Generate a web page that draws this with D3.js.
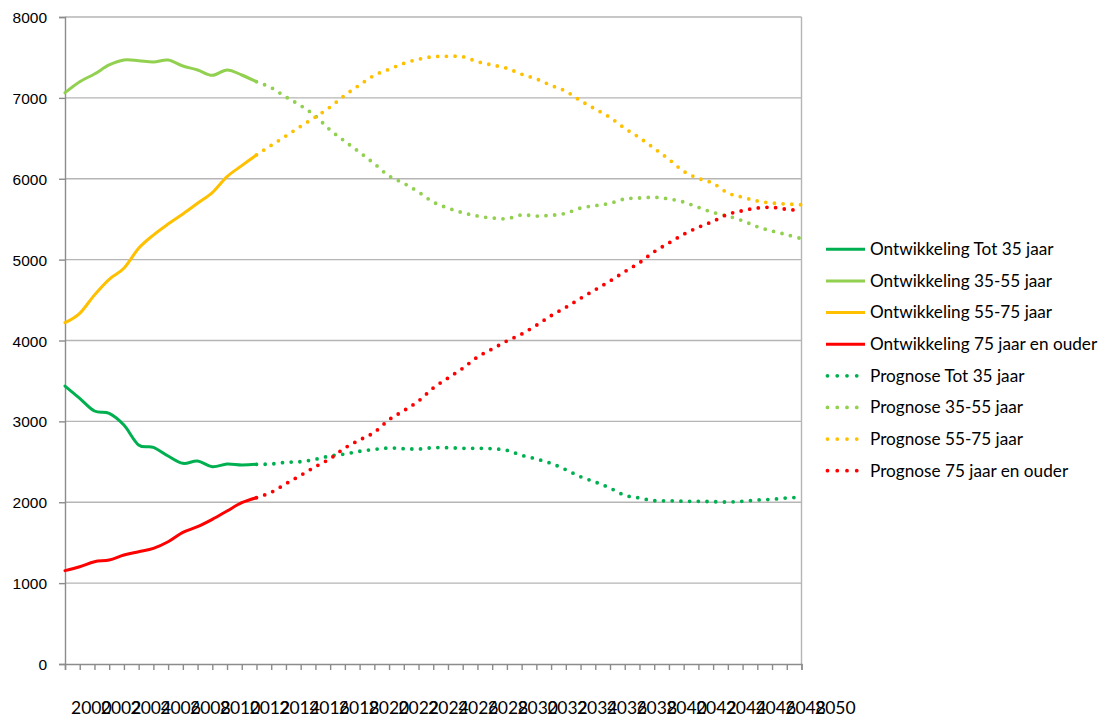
<!DOCTYPE html>
<html>
<head>
<meta charset="utf-8">
<script src="https://cdn.jsdelivr.net/npm/d3@7"></script>
<style>
  html, body { margin: 0; padding: 0; background: #fff; }
  svg { display: block; }
</style>
</head>
<body>
<svg id="chart" width="1108" height="718"></svg>
<script>
// Registered years: development (2000-2013) and forecast (2013-2050)
const histYears = [2000, 2001, 2002, 2003, 2004, 2005, 2006, 2007, 2008, 2009, 2010, 2011, 2012, 2013];
const progYears = [2013, 2014, 2015, 2016, 2017, 2018, 2019, 2020, 2021, 2022, 2023, 2024, 2025,
  2026, 2027, 2028, 2029, 2030, 2031, 2032, 2033, 2034, 2035, 2036, 2037, 2038, 2039, 2040, 2041,
  2042, 2043, 2044, 2045, 2046, 2047, 2048, 2049, 2050];

// Ontwikkeling (development)
const tot35Hist  = [3437, 3285, 3128, 3100, 2955, 2708, 2679, 2572, 2481, 2510, 2440, 2473, 2461, 2469];
const age3555Hist = [7064, 7200, 7295, 7407, 7468, 7460, 7444, 7468, 7394, 7345, 7279, 7345, 7283, 7200];
const age5575Hist = [4220, 4336, 4563, 4757, 4893, 5140, 5304, 5440, 5564, 5697, 5828, 6026, 6162, 6294];
const age75Hist  = [1154, 1203, 1265, 1286, 1348, 1389, 1430, 1512, 1628, 1698, 1789, 1892, 1994, 2056];

// Prognose (forecast)
const tot35Prog = [2469, 2473, 2494, 2502, 2531, 2572, 2597, 2630, 2654, 2671, 2662, 2658, 2675, 2675,
  2667, 2667, 2662, 2642, 2580, 2535, 2481, 2403, 2316, 2250, 2176, 2086, 2053, 2019, 2019, 2012,
  2012, 2007, 2003, 2012, 2028, 2036, 2053, 2061];
const age3555Prog = [7200, 7126, 7011, 6905, 6776, 6603, 6463, 6327, 6186, 6034, 5944, 5836, 5712, 5638,
  5580, 5539, 5515, 5506, 5552, 5539, 5548, 5573, 5638, 5667, 5696, 5750, 5762, 5771, 5750, 5712,
  5646, 5584, 5539, 5481, 5407, 5354, 5308, 5259];
const age5575Prog = [6294, 6413, 6529, 6649, 6763, 6887, 7032, 7159, 7279, 7353, 7427, 7477, 7509, 7514,
  7509, 7448, 7407, 7366, 7292, 7234, 7155, 7082, 6965, 6862, 6759, 6624, 6508, 6376, 6240, 6092,
  6005, 5944, 5824, 5771, 5725, 5700, 5688, 5679];
const age75Prog = [2056, 2123, 2230, 2333, 2440, 2539, 2671, 2770, 2865, 3021, 3132, 3252, 3413, 3536,
  3656, 3796, 3895, 3994, 4080, 4188, 4307, 4410, 4521, 4628, 4736, 4851, 4962, 5098, 5206, 5313,
  5400, 5474, 5560, 5605, 5638, 5646, 5622, 5605];

// Axis labels
const yTickValues = [0, 1000, 2000, 3000, 4000, 5000, 6000, 7000, 8000];
const xLabelYears = [2000, 2002, 2004, 2006, 2008, 2010, 2012, 2014, 2016, 2018, 2020, 2022, 2024,
  2026, 2028, 2030, 2032, 2034, 2036, 2038, 2040, 2042, 2044, 2046, 2048, 2050];

const seriesNames = ["Ontwikkeling Tot 35 jaar", "Ontwikkeling 35-55 jaar", "Ontwikkeling 55-75 jaar",
  "Ontwikkeling 75 jaar en ouder", "Prognose Tot 35 jaar", "Prognose 35-55 jaar",
  "Prognose 55-75 jaar", "Prognose 75 jaar en ouder"];
const groupColors = ["#00B050", "#92D050", "#FFC000", "#FF0000"];

const series = [
  { name: seriesNames[0], years: histYears, values: tot35Hist,   color: groupColors[0], dotted: false },
  { name: seriesNames[1], years: histYears, values: age3555Hist, color: groupColors[1], dotted: false },
  { name: seriesNames[2], years: histYears, values: age5575Hist, color: groupColors[2], dotted: false },
  { name: seriesNames[3], years: histYears, values: age75Hist,   color: groupColors[3], dotted: false },
  { name: seriesNames[4], years: progYears, values: tot35Prog,   color: groupColors[0], dotted: true },
  { name: seriesNames[5], years: progYears, values: age3555Prog, color: groupColors[1], dotted: true },
  { name: seriesNames[6], years: progYears, values: age5575Prog, color: groupColors[2], dotted: true },
  { name: seriesNames[7], years: progYears, values: age75Prog,   color: groupColors[3], dotted: true }
];

const svg = d3.select("#chart");
const plot = { left: 65, right: 801.5, top: 17, bottom: 664 };

const x = d3.scaleLinear().domain([2000, 2050]).range([plot.left, plot.right]);
const y = d3.scaleLinear().domain([0, 8000]).range([plot.bottom, plot.top]);
// year labels are wider than a two-year step, so they run left-aligned from each slot
const xLabel = d3.scalePoint().domain(xLabelYears).range([71, 815]);

// horizontal gridlines
svg.append("g")
  .selectAll("line")
  .data(yTickValues.filter(v => v > 0))
  .join("line")
  .attr("x1", plot.left).attr("x2", plot.right)
  .attr("y1", d => y(d)).attr("y2", d => y(d))
  .attr("stroke", "#b5b5b5").attr("stroke-width", 1.4);

// right border of the plot area
svg.append("line")
  .attr("x1", plot.right).attr("x2", plot.right)
  .attr("y1", plot.top).attr("y2", plot.bottom)
  .attr("stroke", "#b5b5b5").attr("stroke-width", 1.4);

// y axis
const yAxis = svg.append("g")
  .attr("transform", `translate(${plot.left},0)`)
  .call(d3.axisLeft(y).tickValues(yTickValues).tickSize(6).tickPadding(12).tickFormat(d3.format("d")));
yAxis.select(".domain").attr("stroke", "#8c8c8c").attr("stroke-width", 1.4);
yAxis.selectAll(".tick line").attr("stroke", "#8c8c8c").attr("stroke-width", 1.4);
yAxis.selectAll(".tick text")
  .attr("font-family", "'Liberation Sans', Arial, sans-serif")
  .attr("font-size", 15.5)
  .attr("fill", "#000")
  .attr("dy", "0.36em");

// x axis: one tick per year, labels every other year
const xAxis = svg.append("g")
  .attr("transform", `translate(0,${plot.bottom})`)
  .call(d3.axisBottom(x).ticks(50).tickSize(6).tickFormat(""));
xAxis.select(".domain").attr("stroke", "#8c8c8c").attr("stroke-width", 1.4);
xAxis.selectAll(".tick line").attr("stroke", "#8c8c8c").attr("stroke-width", 1.4);

svg.append("g")
  .selectAll("text")
  .data(xLabelYears)
  .join("text")
  .attr("x", d => xLabel(d))
  .attr("y", 714)
  .attr("text-anchor", "start")
  .attr("font-family", "Lato, 'Open Sans', sans-serif")
  .attr("font-size", 17.5)
  .attr("fill", "#000")
  .text(d => d);

// series lines
const line = d3.line()
  .x(d => x(d[0]))
  .y(d => y(d[1]))
  .curve(d3.curveCatmullRom.alpha(0));

svg.append("g")
  .selectAll("path")
  .data(series)
  .join("path")
  .attr("d", s => line(s.years.map((yr, i) => [yr, s.values[i]])))
  .attr("fill", "none")
  .attr("stroke", s => s.color)
  .attr("stroke-width", s => s.dotted ? 3.8 : 3)
  .attr("stroke-linecap", "round")
  .attr("stroke-linejoin", "round")
  .attr("stroke-dasharray", s => s.dotted ? "0 8.7" : null);

// legend
const legend = svg.append("g")
  .selectAll("g")
  .data(series)
  .join("g")
  .attr("transform", (s, i) => `translate(826,${249.3 + i * 31.63})`);

legend.append("line")
  .attr("x1", s => s.dotted ? 1.5 : 0)
  .attr("x2", 39)
  .attr("y1", 0).attr("y2", 0)
  .attr("stroke", s => s.color)
  .attr("stroke-width", s => s.dotted ? 3.8 : 3)
  .attr("stroke-linecap", s => s.dotted ? "round" : "butt")
  .attr("stroke-dasharray", s => s.dotted ? "0 9.75" : null);

legend.append("text")
  .attr("x", 44)
  .attr("y", 5.8)
  .attr("font-family", "Lato, 'Open Sans', sans-serif")
  .attr("font-size", 17.2)
  .attr("fill", "#000")
  .text(s => s.name);
</script>
</body>
</html>
